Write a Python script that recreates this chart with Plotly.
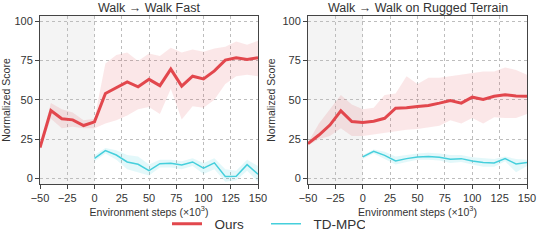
import plotly.graph_objects as go

steps_ours = [-50, -40, -30, -20, -10, 0, 10, 20, 30, 40, 50, 60, 70, 80, 90, 100, 110, 120, 130, 140, 150]
steps_td = [0, 10, 20, 30, 40, 50, 60, 70, 80, 90, 100, 110, 120, 130, 140, 150]

# Walk -> Walk Fast
fast_ours = [19.7, 43.2, 38.0, 37.3, 33.7, 36.0, 54.0, 57.6, 61.4, 58.3, 63.0, 59.0, 69.5, 58.7, 65.0, 63.3, 68.4, 75.2, 76.7, 75.6, 76.7]
fast_ours_hi = [21, 48, 44, 42, 37, 38, 73, 78.4, 80, 74.6, 79.4, 77.8, 83, 80, 82, 80.5, 82.6, 83.7, 87, 85, 87.5]
fast_ours_lo = [18.5, 38, 32, 33, 32, 32, 35, 37, 40, 44, 45.5, 41, 57, 37.5, 46, 45, 50, 60, 65, 66, 65]
fast_td = [12.9, 17.8, 15.0, 10.6, 9.1, 5.1, 9.5, 9.7, 8.7, 10.6, 6.6, 10.0, 1.3, 1.5, 8.9, 2.8]
fast_td_hi = [15, 19.5, 18, 15, 14, 9, 12, 12, 11, 13, 10, 13, 6, 5, 12, 8]
fast_td_lo = [11, 16, 12, 6, 4, 2, 7, 7, 6, 8, 3, 6, -2, -1, 5, -2]

# Walk -> Walk on Rugged Terrain
rug_ours = [22.2, 27.7, 34.0, 43.0, 36.2, 35.6, 36.4, 38.3, 44.7, 45.0, 45.8, 46.4, 47.9, 49.6, 47.9, 51.7, 50.2, 52.3, 53.2, 52.5, 52.3]
rug_ours_hi = [23, 35, 44, 53, 47, 44, 45, 53, 54, 65, 60, 64, 64, 65, 66, 67, 68, 68, 70.5, 69, 66]
rug_ours_lo = [21, 25, 27, 32, 27, 27, 28, 29, 30, 31, 31.5, 32.5, 33.5, 37, 35, 38.5, 35, 39, 38.5, 38.5, 41]
rug_td = [13.8, 17.4, 14.8, 11.2, 12.7, 13.8, 14.0, 13.6, 12.3, 12.7, 11.2, 10.2, 10.0, 12.7, 9.3, 10.2]
rug_td_hi = [15, 18.5, 17, 14, 15, 16, 16.5, 16, 15, 15, 13.5, 13, 12.5, 14, 12.5, 12]
rug_td_lo = [12.5, 16, 12.5, 9, 10.5, 12, 12, 11.5, 10, 10.5, 9, 7.5, 7.5, 11, 4, 8]

titles = ["Walk \u2192 Walk Fast", "Walk \u2192 Walk on Rugged Terrain"]
series_names = ["Ours", "TD-MPC"]
x_ticks = [-50, -25, 0, 25, 50, 75, 100, 125, 150]
y_ticks = [0, 25, 50, 75, 100]

RED = "#e2474d"
CYAN = "#45cfdc"
RED_FILL = "rgba(226,71,77,0.13)"
CYAN_FILL = "rgba(69,207,220,0.15)"

fig = go.Figure()

panels = [
    (fast_ours, fast_ours_hi, fast_ours_lo, fast_td, fast_td_hi, fast_td_lo),
    (rug_ours, rug_ours_hi, rug_ours_lo, rug_td, rug_td_hi, rug_td_lo),
]
domains = [[40 / 540, 258 / 540], [308 / 540, 527 / 540]]
ydom = [1 - 184 / 244, 1 - 16 / 244]
pad = "\u00a0\u00a0"

for i, (o, ohi, olo, t, thi, tlo) in enumerate(panels):
    xa = "x" if i == 0 else "x2"
    ya = "y" if i == 0 else "y2"
    fig.add_trace(go.Scatter(x=steps_ours + steps_ours[::-1], y=ohi + olo[::-1], fill="toself",
                             fillcolor=RED_FILL, line=dict(width=0), hoverinfo="skip",
                             showlegend=False, xaxis=xa, yaxis=ya))
    fig.add_trace(go.Scatter(x=steps_td + steps_td[::-1], y=thi + tlo[::-1], fill="toself",
                             fillcolor=CYAN_FILL, line=dict(width=0), hoverinfo="skip",
                             showlegend=False, xaxis=xa, yaxis=ya))
    fig.add_trace(go.Scatter(x=steps_ours, y=o, mode="lines", line=dict(color=RED, width=3),
                             name=pad + series_names[0], showlegend=(i == 0), xaxis=xa, yaxis=ya))
    fig.add_trace(go.Scatter(x=steps_td, y=t, mode="lines", line=dict(color=CYAN, width=1.5),
                             name=pad + series_names[1], showlegend=(i == 0), xaxis=xa, yaxis=ya))
    fig.add_shape(type="rect", xref=xa, yref=ya + " domain", x0=-50, x1=0, y0=0, y1=1,
                  fillcolor="#f4f4f4", line=dict(width=0), layer="below")
    fig.add_annotation(text=titles[i], xref=xa + " domain", yref="paper", x=0.5,
                       y=1 - 8 / 244, showarrow=False, font=dict(size=12.5, color="#333"),
                       yanchor="middle")

axis_common = dict(showline=True, mirror=True, linecolor="#444", linewidth=1,
                   showgrid=True, gridcolor="#bdbdbd", griddash="dot", gridwidth=1,
                   ticks="outside", ticklen=4, tickcolor="#444", zeroline=False,
                   automargin=False, tickfont=dict(size=11, color="#333"))

layout = dict(
    width=540, height=244,
    margin=dict(l=0, r=0, t=0, b=0),
    plot_bgcolor="white", paper_bgcolor="white",
    font=dict(family="Liberation Sans, Arial, sans-serif", color="#333"),
    showlegend=True,
    hovermode=False,
    legend=dict(orientation="h", x=0.5 - 4 / 540, xanchor="center", y=1 - 224 / 244, yanchor="middle",
                font=dict(size=13.5, color="#333"), itemwidth=30, tracegroupgap=0,
                entrywidth=54),
)
for i in range(2):
    sx = "" if i == 0 else "2"
    layout["xaxis" + sx] = dict(axis_common, domain=domains[i], range=[-50, 150],
                                tickvals=x_ticks, anchor="y" + sx,
                                title=dict(text="Environment steps (\u00d710<sup>3</sup>)",
                                           font=dict(size=10.5, color="#333"), standoff=2))
    layout["yaxis" + sx] = dict(axis_common, domain=ydom, range=[-3.4, 103.2], tickvals=y_ticks,
                                anchor="x" + sx,
                                title=dict(text="Normalized Score", font=dict(size=10.5, color="#333"),
                                           standoff=4))
fig.update_layout(**layout)
fig.write_html("out.html", config={"displayModeBar": False},
               post_script="document.body.style.margin='0';")
